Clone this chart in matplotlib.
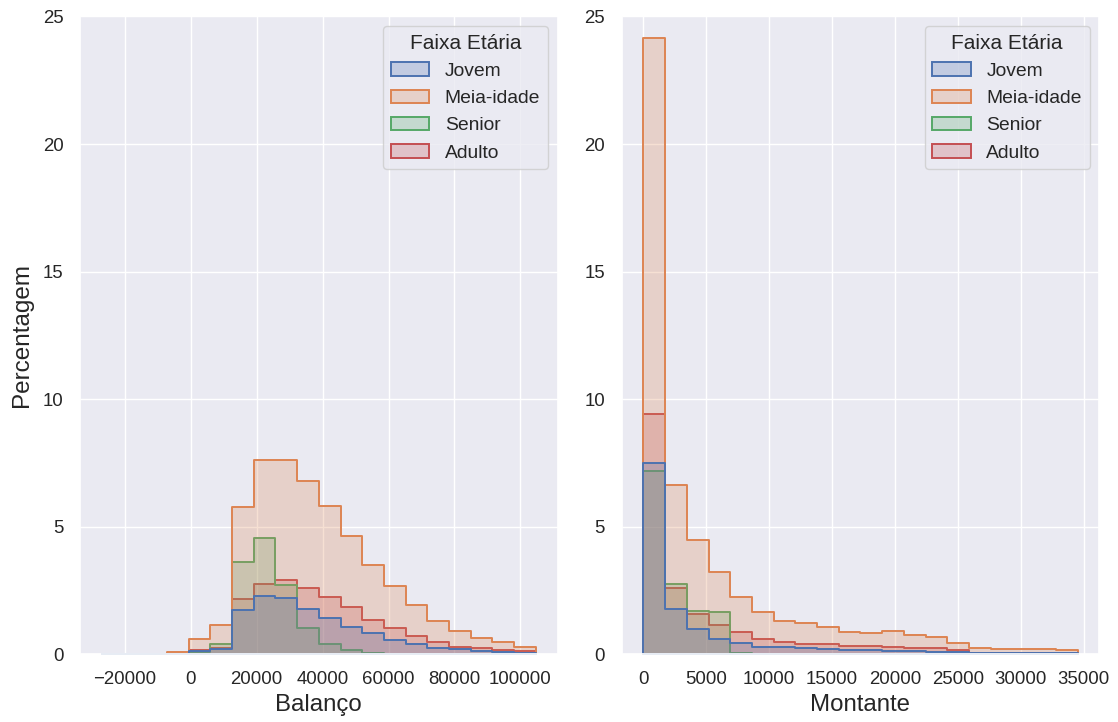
import numpy as np
import matplotlib
matplotlib.use("Agg")
import matplotlib.pyplot as plt
from matplotlib.colors import to_rgba
from matplotlib.patches import Patch
import seaborn as sns

# Age groups (legend order) and their colours
faixas = ["Jovem", "Meia-idade", "Senior", "Adulto"]
cores = ["#4C72B0", "#DD8452", "#55A868", "#C44E52"]

# Balanço: 20 common bins from -27000 to 104700, heights in percent of all clients
balanco_inicio, balanco_fim, balanco_bins = -27000, 104700, 20
balanco_jovem = [0.00, 0.00, 0.00, 0.01, 0.13, 0.22, 1.75, 2.28, 2.22, 1.77,
                 1.43, 1.09, 0.83, 0.58, 0.41, 0.25, 0.20, 0.13, 0.08, 0.04]
balanco_meia = [0.01, 0.01, 0.01, 0.08, 0.59, 1.14, 5.79, 7.61, 7.64, 6.81,
                5.80, 4.63, 3.52, 2.68, 1.92, 1.31, 0.92, 0.66, 0.49, 0.30]
balanco_senior = [0.00, 0.00, 0.00, 0.01, 0.10, 0.42, 3.64, 4.58, 2.73, 1.04,
                  0.42, 0.18, 0.07, 0.03, 0.01, 0.00, 0.00, 0.00, 0.00, 0.00]
balanco_adulto = [0.00, 0.00, 0.00, 0.02, 0.18, 0.26, 2.18, 2.78, 2.90, 2.62,
                  2.26, 1.85, 1.36, 1.04, 0.73, 0.50, 0.31, 0.25, 0.18, 0.12]

# Montante: 20 common bins from 0 to 34500
montante_inicio, montante_fim, montante_bins = 0, 34500, 20
montante_jovem = [7.52, 1.80, 0.98, 0.60, 0.46, 0.31, 0.28, 0.24, 0.20, 0.16,
                  0.18, 0.14, 0.13, 0.10, 0.09, 0.04, 0.04, 0.04, 0.04, 0.04]
montante_meia = [24.15, 6.63, 4.47, 3.25, 2.26, 1.68, 1.33, 1.22, 1.08, 0.88,
                 0.85, 0.93, 0.75, 0.70, 0.45, 0.25, 0.21, 0.22, 0.20, 0.17]
montante_senior = [7.19, 2.77, 1.71, 1.67, 0.07, 0.00, 0.00, 0.00, 0.00, 0.00,
                   0.00, 0.00, 0.00, 0.00, 0.00, 0.00, 0.00, 0.00, 0.00, 0.00]
montante_adulto = [9.42, 2.60, 1.60, 1.17, 0.88, 0.59, 0.47, 0.42, 0.41, 0.33,
                   0.33, 0.29, 0.26, 0.24, 0.17, 0.07, 0.05, 0.05, 0.05, 0.05]

sns.set_theme(style="darkgrid")
plt.rcParams["font.family"] = ["Liberation Sans", "DejaVu Sans"]
plt.rcParams["text.color"] = "0.15"
plt.rcParams["xtick.color"] = "0.15"
plt.rcParams["ytick.color"] = "0.15"
plt.rcParams["axes.labelcolor"] = "0.15"

fig = plt.figure(figsize=(11.18, 7.22), dpi=100)
ax1 = fig.add_axes([0.0716, 0.0935, 0.4271, 0.8837])
ax2 = fig.add_axes([0.5561, 0.0935, 0.4271, 0.8837], sharey=ax1)


def step_layer(ax, edges, heights, color):
    y = np.append(heights, heights[-1])
    ax.fill_between(edges, y, step="post",
                    facecolor=to_rgba(color, 0.25),
                    edgecolor=to_rgba(color, 1.0),
                    linewidth=1.4)


def painel(ax, inicio, fim, nbins, series, xlabel):
    edges = np.linspace(inicio, fim, nbins + 1)
    # later groups are drawn first so that "Jovem" ends up on top
    for heights, color in reversed(list(zip(series, cores))):
        step_layer(ax, edges, np.asarray(heights), color)
    ax.set_xlabel(xlabel, fontsize=17.3)
    ax.tick_params(axis="both", labelsize=13.4, length=0, pad=12)
    handles = [Patch(facecolor=to_rgba(c, 0.25), edgecolor=to_rgba(c, 1.0),
                     linewidth=1.4, label=f) for f, c in zip(faixas, cores)]
    ax.legend(handles=handles, title="Faixa Etária", loc="upper right",
              fontsize=13.9, title_fontsize=15.0, labelspacing=0.5)


painel(ax1, balanco_inicio, balanco_fim, balanco_bins,
       [balanco_jovem, balanco_meia, balanco_senior, balanco_adulto], "Balanço")
painel(ax2, montante_inicio, montante_fim, montante_bins,
       [montante_jovem, montante_meia, montante_senior, montante_adulto], "Montante")

ax1.set_ylim(0, 25)
ax1.set_yticks([0, 5, 10, 15, 20, 25])
ax1.set_ylabel("Percentagem", fontsize=17.5, labelpad=7)
ax1.set_xticks([-20000, 0, 20000, 40000, 60000, 80000, 100000])
ax2.set_xticks([0, 5000, 10000, 15000, 20000, 25000, 30000, 35000])
ax2.yaxis.set_tick_params(labelleft=True)

fig.savefig("out.png", dpi=100)
